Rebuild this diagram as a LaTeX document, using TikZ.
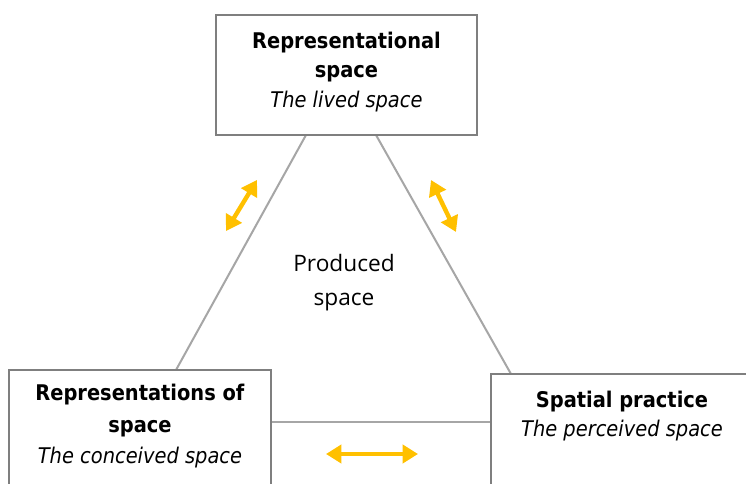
\documentclass[tikz,border=0pt]{standalone}
\usepackage{fontspec}
\setmainfont{DejaVu Sans Condensed}
\newfontfamily\prodfont{Open Sans}
\usetikzlibrary{arrows.meta}
\definecolor{boxgray}{HTML}{7F7F7F}
\definecolor{linegray}{HTML}{A6A6A6}
\definecolor{gold}{HTML}{FFC000}
\tikzset{
  boxshape/.style={draw=boxgray, line width=1.5pt, fill=white, rectangle, inner sep=0pt},
  boxtext/.style={align=center, font=\fontsize{16.2}{22.2}\selectfont, inner sep=0pt},
  link/.style={draw=linegray, line width=1.5pt},
  dbl/.style={draw=gold, line width=3.3pt, {Triangle[width=13.5pt,length=11.5pt]}-{Triangle[width=13.5pt,length=11.5pt]}}
}
\begin{document}
\begin{tikzpicture}[x=0.75pt,y=-0.75pt]
\useasboundingbox (0,0) rectangle (746,484);
\clip (0,0) rectangle (746,484);
\fill[white] (0,0) rectangle (746,484);
% connectors first
\coordinate (t1) at (306,135);
\coordinate (t2) at (376,135);
\coordinate (l1) at (176,370);
\coordinate (l2) at (271,422);
\coordinate (r1) at (511,374);
\coordinate (r2) at (491,422);
\draw[link] (t1) -- (l1);
\draw[link] (t2) -- (r1);
\draw[link] (l2) -- (r2);
% boxes
\node[boxshape, minimum width=261*0.75pt, minimum height=120*0.75pt] (top) at (346.5,75) {};
\node[boxshape, minimum width=262*0.75pt, minimum height=160*0.75pt] (left) at (140,450) {};
\node[boxshape, minimum width=300*0.75pt, minimum height=160*0.75pt] (right) at (641,454) {};
% texts
\node[boxtext] (toptext) at (346.5,72) {\textbf{Representational}\\\textbf{space}\\\textit{The lived space}};
\node[boxtext, font=\fontsize{16.2}{23.6}\selectfont] (lefttext) at (140,426.5) {\textbf{Representations of}\\\textbf{space}\\\textit{The conceived space}};
\node[boxtext] (righttext) at (622,416) {\textbf{Spatial practice}\\\textit{The perceived space}};
\node[align=center, font=\prodfont\fontsize{17}{25.5}\selectfont, inner sep=0pt] (prod) at (344,283) {Produced\\space};
% arrows
\coordinate (a1) at (226,231); \coordinate (a2) at (257,180);
\coordinate (b1) at (431,180); \coordinate (b2) at (456,232);
\coordinate (c1) at (326,454); \coordinate (c2) at (418,454);
\draw[dbl] (a1) -- (a2);
\draw[dbl] (b1) -- (b2);
\draw[dbl] (c1) -- (c2);
\end{tikzpicture}
\end{document}
